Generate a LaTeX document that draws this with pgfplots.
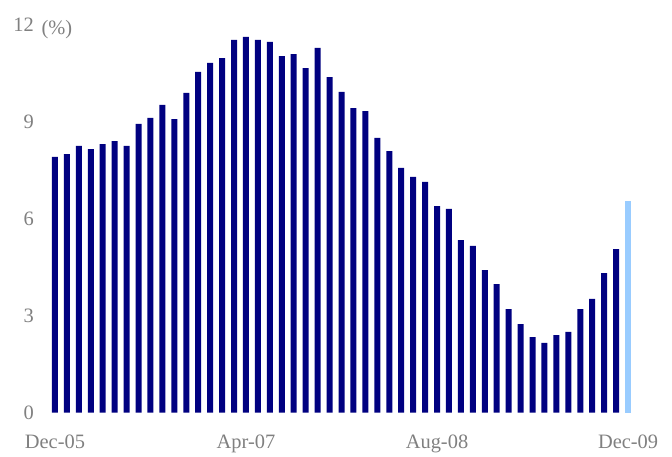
\documentclass[border=0pt]{standalone}
\usepackage{fontspec}
\setmainfont{Liberation Serif}
\usepackage{pgfplots}
\pgfplotsset{compat=1.18}
\definecolor{navyb}{RGB}{0,0,128}
\definecolor{lightb}{RGB}{153,204,255}
\definecolor{lab}{RGB}{128,128,128}
\begin{document}
\begin{tikzpicture}
\path[use as bounding box] (-43bp,-44.3bp) rectangle (629bp,412.7bp);
\begin{axis}[
  at={(0,0)}, anchor=south west,
  scale only axis, width=597bp, height=388bp,
  xmin=-1, xmax=49, ymin=0, ymax=12,
  clip=false,
  axis line style={draw=none},
  major tick length=0pt,
  xtick={0,16,32,48},
  xticklabels={Dec-05,Apr-07,Aug-08,Dec-09},
  ytick={0,3,6,9,12},
  yticklabels={0,3,6,9,12},
  tick label style={font=\fontsize{20.5}{23}\selectfont, text=lab, inner sep=0pt},
  yticklabel style={anchor=east, xshift=-9bp},
  xticklabel style={anchor=north, yshift=-22bp},
  ybar, bar width=6bp, bar shift=0pt,
]
\addplot[fill=navyb, draw=none] coordinates {
(0,7.91) (1,8.00) (2,8.25) (3,8.15) (4,8.31) (5,8.40) (6,8.25) (7,8.93)
(8,9.12) (9,9.52) (10,9.08) (11,9.89) (12,10.54) (13,10.82) (14,10.97) (15,11.53)
(16,11.62) (17,11.53) (18,11.47) (19,11.03) (20,11.09) (21,10.66) (22,11.28) (23,10.38)
(24,9.92) (25,9.42) (26,9.33) (27,8.50) (28,8.09) (29,7.57) (30,7.29) (31,7.14)
(32,6.39) (33,6.30) (34,5.34) (35,5.16) (36,4.41) (37,3.98) (38,3.20) (39,2.74)
(40,2.34) (41,2.16) (42,2.40) (43,2.50) (44,3.20) (45,3.52) (46,4.32) (47,5.06)
};
\addplot[fill=lightb, draw=none] coordinates {(48,6.55)};
\node[font=\fontsize{20.5}{23}\selectfont, text=lab, anchor=center] at (axis cs:0.17,11.84) {(\%)};
\end{axis}
\end{tikzpicture}
\end{document}
